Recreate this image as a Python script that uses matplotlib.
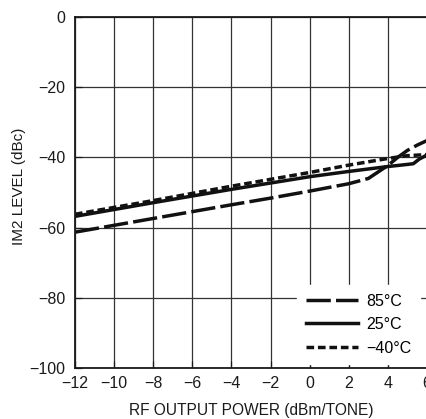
import matplotlib
matplotlib.use("Agg")
import matplotlib.pyplot as plt

plt.rcParams['font.family'] = ['Liberation Sans', 'DejaVu Sans']
plt.rcParams['axes.unicode_minus'] = True

x_85 = [-12, -8, -4, -2, 0, 2, 3, 4, 4.5, 5, 5.5, 6]
y_85 = [-61.3, -57.4, -53.5, -51.6, -49.6, -47.5, -46.0, -42.3, -40.0, -38.0, -36.5, -35.2]

x_25 = [-12, -8, -4, 0, 2, 4, 4.5, 5, 5.3, 5.6, 6]
y_25 = [-56.8, -52.9, -49.1, -45.5, -44.0, -42.6, -42.3, -42.0, -41.8, -40.5, -39.3]

x_m40 = [-12, -8, -4, 0, 2, 4, 5, 6]
y_m40 = [-56.2, -52.3, -48.2, -44.3, -42.2, -40.3, -39.5, -39.2]

xticks = [-12, -10, -8, -6, -4, -2, 0, 2, 4, 6]
yticks = [0, -20, -40, -60, -80, -100]
labels = ['85°C', '25°C', '\u221240°C']

fig = plt.figure(figsize=(4.27, 4.19), dpi=100)
ax = fig.add_axes([75/427, 1 - 368/419, 352/427, 351/419])

ax.plot(x_85, y_85, color='#111111', lw=2.5, ls=(0, (7, 1.5)), label=labels[0])
ax.plot(x_25, y_25, color='#111111', lw=2.5, ls='-', label=labels[1])
ax.plot(x_m40, y_m40, color='#111111', lw=2.5, ls=(0, (2.2, 1.1)), label=labels[2])

ax.set_xlim(-12, 6)
ax.set_ylim(-100, 0)
ax.set_xticks(xticks)
ax.set_yticks(yticks)
ax.grid(True, color='#333333', lw=0.9)
ax.tick_params(direction='in', length=5, width=0.9, labelsize=11.5, colors='#1a1a1a')
ax.tick_params(axis='x', pad=6)
ax.tick_params(axis='y', pad=7)
for s in ax.spines.values():
    s.set_color('#1a1a1a')
    s.set_linewidth(1.3)

ax.set_xlabel('RF OUTPUT POWER (dBm/TONE)', fontsize=11.2, color='#1a1a1a')
ax.set_ylabel('IM2 LEVEL (dBc)', fontsize=11, color='#1a1a1a')
ax.xaxis.set_label_coords(0.501, -0.120)
ax.yaxis.set_label_coords(-0.159, 0.519)
ax.xaxis.label.set_va('center')
ax.yaxis.label.set_va('center')

leg = ax.legend(loc='lower right', bbox_to_anchor=(0.98, 0.010), frameon=True, fontsize=11.5,
                handlelength=3.25, handletextpad=0.5, labelspacing=0.53,
                borderpad=0.56, borderaxespad=0.0, fancybox=False)
leg.get_frame().set_edgecolor('white')
leg.get_frame().set_facecolor('white')
leg.get_frame().set_alpha(1.0)

fig.savefig('out.png', dpi=100)
